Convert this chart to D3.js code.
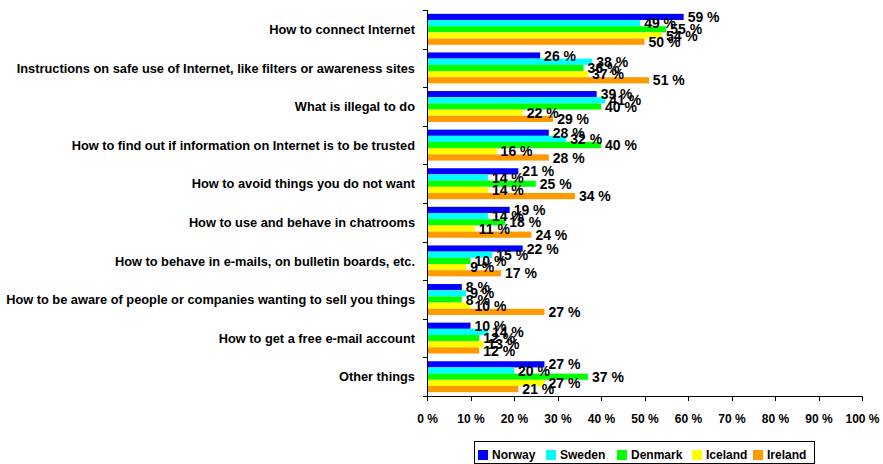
<!DOCTYPE html>
<meta charset="utf-8">
<style>
body { margin: 0; background: #fff; }
text { font-family: "Liberation Sans", Arial, sans-serif; font-weight: bold; }
.value { font-family: "Liberation Sans Narrow", "Arial Narrow", sans-serif; font-stretch: condensed; }
.axis path, .axis line { stroke: #000; shape-rendering: crispEdges; }
</style>
<svg width="883" height="464"></svg>
<script src="https://cdn.jsdelivr.net/npm/d3@7"></script>
<script>

var categories = [
  "How to connect Internet",
  "Instructions on safe use of Internet, like filters or awareness sites",
  "What is illegal to do",
  "How to find out if information on Internet is to be trusted",
  "How to avoid things you do not want",
  "How to use and behave in chatrooms",
  "How to behave in e-mails, on bulletin boards, etc.",
  "How to be aware of people or companies wanting to sell you things",
  "How to get a free e-mail account",
  "Other things"
];

var countries = ["Norway", "Sweden", "Denmark", "Iceland", "Ireland"];

var norway  = [59, 26, 39, 28, 21, 19, 22, 8, 10, 27];
var sweden  = [49, 38, 41, 32, 14, 14, 15, 9, 14, 20];
var denmark = [55, 36, 40, 40, 25, 18, 10, 8, 12, 37];
var iceland = [54, 37, 22, 16, 14, 11, 9, 10, 13, 27];
var ireland = [50, 51, 29, 28, 34, 24, 17, 27, 12, 21];

var xTicks = [0, 10, 20, 30, 40, 50, 60, 70, 80, 90, 100];

var series = [norway, sweden, denmark, iceland, ireland];
var colors = ["#0000ff", "#00ffff", "#00ff00", "#ffff00", "#ff9900"];

var svg = d3.select("svg");
var plotLeft = 427, plotRight = 862, plotTop = 10, plotBottom = 396;

var x = d3.scaleLinear().domain([0, 100]).range([plotLeft, plotRight]);
var y0 = d3.scaleBand().domain(categories).range([plotTop, plotBottom]);
var y1 = d3.scaleBand().domain(countries).range([0, y0.bandwidth()]).paddingOuter(0.62);
var color = d3.scaleOrdinal().domain(countries).range(colors);

var rows = [];
categories.forEach(function(c, i) {
  countries.forEach(function(k, j) {
    rows.push({cat: c, country: k, value: series[j][i]});
  });
});

svg.append("g")
  .selectAll("rect")
  .data(rows)
  .enter().append("rect")
    .attr("x", x(0))
    .attr("y", function(d) { return y0(d.cat) + y1(d.country); })
    .attr("width", function(d) { return x(d.value) - x(0); })
    .attr("height", y1.bandwidth())
    .attr("fill", function(d) { return color(d.country); });

svg.append("g")
  .selectAll("text")
  .data(rows)
  .enter().append("text")
    .attr("class", "value")
    .attr("x", function(d) { return x(d.value) + 4; })
    .attr("y", function(d) { return y0(d.cat) + y1(d.country) + y1.bandwidth() / 2; })
    .attr("dy", "0.36em")
    .style("font-size", "14px")
    .text(function(d) { return d.value + " %"; });

// x axis
var xAxis = svg.append("g")
    .attr("class", "axis")
    .attr("transform", "translate(0," + plotBottom + ")")
    .call(d3.axisBottom(x).tickValues(xTicks).tickFormat(function(d) { return d + " %"; })
      .tickSize(5).tickPadding(13).tickSizeOuter(0));
xAxis.selectAll("text").style("font-size", "12px").attr("fill", "#000");

// y axis line with boundary ticks
svg.append("line")
    .attr("x1", plotLeft + 0.5).attr("x2", plotLeft + 0.5)
    .attr("y1", plotTop).attr("y2", plotBottom)
    .attr("stroke", "#000");
var bounds = categories.map(function(c) { return y0(c); }).concat([plotBottom]);
svg.append("g")
  .selectAll("line")
  .data(bounds)
  .enter().append("line")
    .attr("x1", plotLeft - 4).attr("x2", plotLeft)
    .attr("y1", function(d) { return Math.round(d) + 0.5; })
    .attr("y2", function(d) { return Math.round(d) + 0.5; })
    .attr("stroke", "#000");

svg.append("g")
  .selectAll("text")
  .data(categories)
  .enter().append("text")
    .attr("x", 415)
    .attr("y", function(d) { return y0(d) + y0.bandwidth() / 2; })
    .attr("dy", "0.36em")
    .attr("text-anchor", "end")
    .style("font-size", "12.8px")
    .text(function(d) { return d; });

// legend
var legend = svg.append("g");
legend.append("rect")
    .attr("x", 474.5).attr("y", 441.5)
    .attr("width", 340).attr("height", 22)
    .attr("fill", "#fff").attr("stroke", "#000");
var legendX = [478, 546, 617, 692, 753];
var item = legend.selectAll("g.item")
  .data(countries)
  .enter().append("g")
    .attr("class", "item")
    .attr("transform", function(d, i) { return "translate(" + legendX[i] + ",450)"; });
item.append("rect")
    .attr("width", 10).attr("height", 10)
    .attr("fill", function(d) { return color(d); });
item.append("text")
    .attr("x", 14).attr("y", 5)
    .attr("dy", "0.36em")
    .style("font-size", "12px")
    .text(function(d) { return d; });

</script>
